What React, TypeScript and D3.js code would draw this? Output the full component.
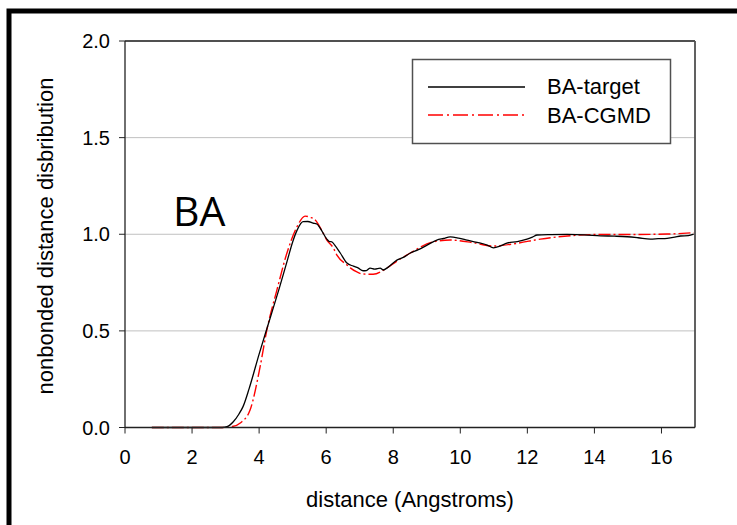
import React from "react";
import * as d3 from "d3";

// BA-target (black, solid)
const targetX = [0.8, 2.0, 2.9, 3.04, 3.23, 3.4, 3.52, 3.7, 4.0, 4.3, 4.6, 4.85, 5.0, 5.13, 5.31, 5.45, 5.61, 5.72, 5.82, 6.02, 6.1, 6.17, 6.25, 6.42, 6.62, 6.81, 6.95, 7.1, 7.2, 7.31, 7.45, 7.61, 7.7, 7.85, 8.11, 8.3, 8.51, 8.75, 9.01, 9.3, 9.5, 9.7, 9.95, 10.2, 10.5, 10.8, 10.99, 11.2, 11.39, 11.7, 11.99, 12.15, 12.29, 12.7, 13.19, 13.7, 14.18, 14.6, 14.98, 15.3, 15.67, 15.9, 16.17, 16.4, 16.57, 16.8, 16.96];
const targetY = [0, 0, 0, 0.004, 0.03, 0.07, 0.108, 0.2, 0.38, 0.55, 0.72, 0.87, 0.96, 1.02, 1.065, 1.066, 1.058, 1.053, 1.032, 0.975, 0.962, 0.961, 0.945, 0.903, 0.851, 0.835, 0.826, 0.811, 0.812, 0.825, 0.82, 0.825, 0.815, 0.83, 0.866, 0.88, 0.903, 0.92, 0.944, 0.97, 0.978, 0.986, 0.98, 0.97, 0.958, 0.944, 0.93, 0.94, 0.954, 0.962, 0.975, 0.985, 0.996, 0.998, 0.999, 0.997, 0.992, 0.99, 0.987, 0.982, 0.975, 0.977, 0.979, 0.985, 0.991, 0.993, 1.001];

// BA-CGMD (red, dash-dot)
const cgmdX = [0.8, 2.0, 2.9, 3.2, 3.45, 3.73, 4.03, 4.23, 4.53, 4.83, 5.13, 5.37, 5.52, 5.65, 5.91, 6.02, 6.21, 6.32, 6.62, 6.72, 6.9, 7.1, 7.4, 7.81, 8.1, 8.51, 9.19, 9.7, 10.39, 10.99, 11.69, 12.39, 13.19, 14.18, 15.16, 16.17, 16.96];
const cgmdY = [0, 0, 0, 0.005, 0.025, 0.09, 0.315, 0.504, 0.711, 0.903, 1.039, 1.094, 1.088, 1.078, 1.006, 0.97, 0.93, 0.892, 0.841, 0.826, 0.806, 0.794, 0.793, 0.825, 0.86, 0.903, 0.961, 0.97, 0.956, 0.939, 0.953, 0.975, 0.991, 0.999, 0.999, 1.001, 1.008];

const xTicks = [0, 2, 4, 6, 8, 10, 12, 14, 16];
const yTicks = [0, 0.5, 1.0, 1.5, 2.0];
const gridTicks = [0.5, 1.0, 1.5];

const W = 737;
const H = 525;
const left = 125;
const right = 695;
const top = 41;
const bottom = 427.5;
const font = "'Liberation Sans', Arial, sans-serif";

export default function App() {
  const x = d3.scaleLinear().domain([0, 17]).range([left, right]);
  const y = d3.scaleLinear().domain([0, 2]).range([bottom, top]);

  const targetPath = d3
    .line<[number, number]>()
    .x((d) => x(d[0]))
    .y((d) => y(d[1]))
    .curve(d3.curveMonotoneX)(targetX.map((v, i) => [v, targetY[i]]));

  const cgmdPath = d3
    .line<[number, number]>()
    .x((d) => x(d[0]))
    .y((d) => y(d[1]))
    .curve(d3.curveMonotoneX)(cgmdX.map((v, i) => [v, cgmdY[i]]));

  return (
    <svg
      width={W}
      height={H}
      style={{ position: "absolute", left: 0, top: 0, background: "#fff" }}
    >
      <rect x={0} y={0} width={W} height={H} fill="#fff" />
      {/* outer frame, cut off at right and bottom */}
      <rect x={9} y={11} width={900} height={700} fill="none" stroke="#000" strokeWidth={5} />

      {/* grid */}
      {gridTicks.map((t) => (
        <line key={t} x1={left} x2={right} y1={y(t)} y2={y(t)} stroke="#c0c0c0" strokeWidth={1} />
      ))}

      {/* plot frame top/right */}
      <line x1={left} x2={right} y1={top} y2={top} stroke="#505050" strokeWidth={1.8} />
      <line x1={right} x2={right} y1={top} y2={bottom} stroke="#505050" strokeWidth={1.8} />

      {/* curves */}
      <path d={cgmdPath ?? ""} fill="none" stroke="#ff0000" strokeWidth={1.4} strokeDasharray="12,3,2,3" />
      <path d={targetPath ?? ""} fill="none" stroke="#000" strokeWidth={1.3} />

      {/* axes */}
      <line x1={left} x2={left} y1={top} y2={bottom} stroke="#222" strokeWidth={1.3} />
      <line x1={left} x2={right} y1={bottom} y2={bottom} stroke="#222" strokeWidth={1.3} />
      {yTicks.map((t) => (
        <g key={t}>
          <line x1={left - 6} x2={left} y1={y(t)} y2={y(t)} stroke="#222" strokeWidth={1} />
          <text x={110} y={y(t)} dy="0.36em" textAnchor="end" fontFamily={font} fontSize={20}>
            {t.toFixed(1)}
          </text>
        </g>
      ))}
      {xTicks.map((t) => (
        <g key={t}>
          <line x1={x(t)} x2={x(t)} y1={bottom} y2={bottom + 6} stroke="#222" strokeWidth={1} />
          <text x={x(t)} y={463.5} textAnchor="middle" fontFamily={font} fontSize={20}>
            {t}
          </text>
        </g>
      ))}

      <text x={410} y={507} textAnchor="middle" fontFamily={font} fontSize={22}>
        distance (Angstroms)
      </text>
      <text
        transform={`translate(53,236) rotate(-90)`}
        textAnchor="middle"
        fontFamily={font}
        fontSize={22}
      >
        nonbonded distance disbribution
      </text>

      <text x={173} y={226} fontFamily="'Open Sans', 'Noto Sans', sans-serif" fontSize={41}>
        BA
      </text>

      {/* legend */}
      <rect x={412.5} y={59.5} width={258} height={84} fill="#fff" stroke="#505050" strokeWidth={1.5} />
      <line x1={428} x2={525} y1={87} y2={87} stroke="#000" strokeWidth={1.3} />
      <line x1={428} x2={525} y1={115} y2={115} stroke="#ff0000" strokeWidth={1.4} strokeDasharray="15,4,2,4" />
      <text x={547} y={94} fontFamily={font} fontSize={22}>
        BA-target
      </text>
      <text x={547} y={123} fontFamily={font} fontSize={22}>
        BA-CGMD
      </text>
    </svg>
  );
}
